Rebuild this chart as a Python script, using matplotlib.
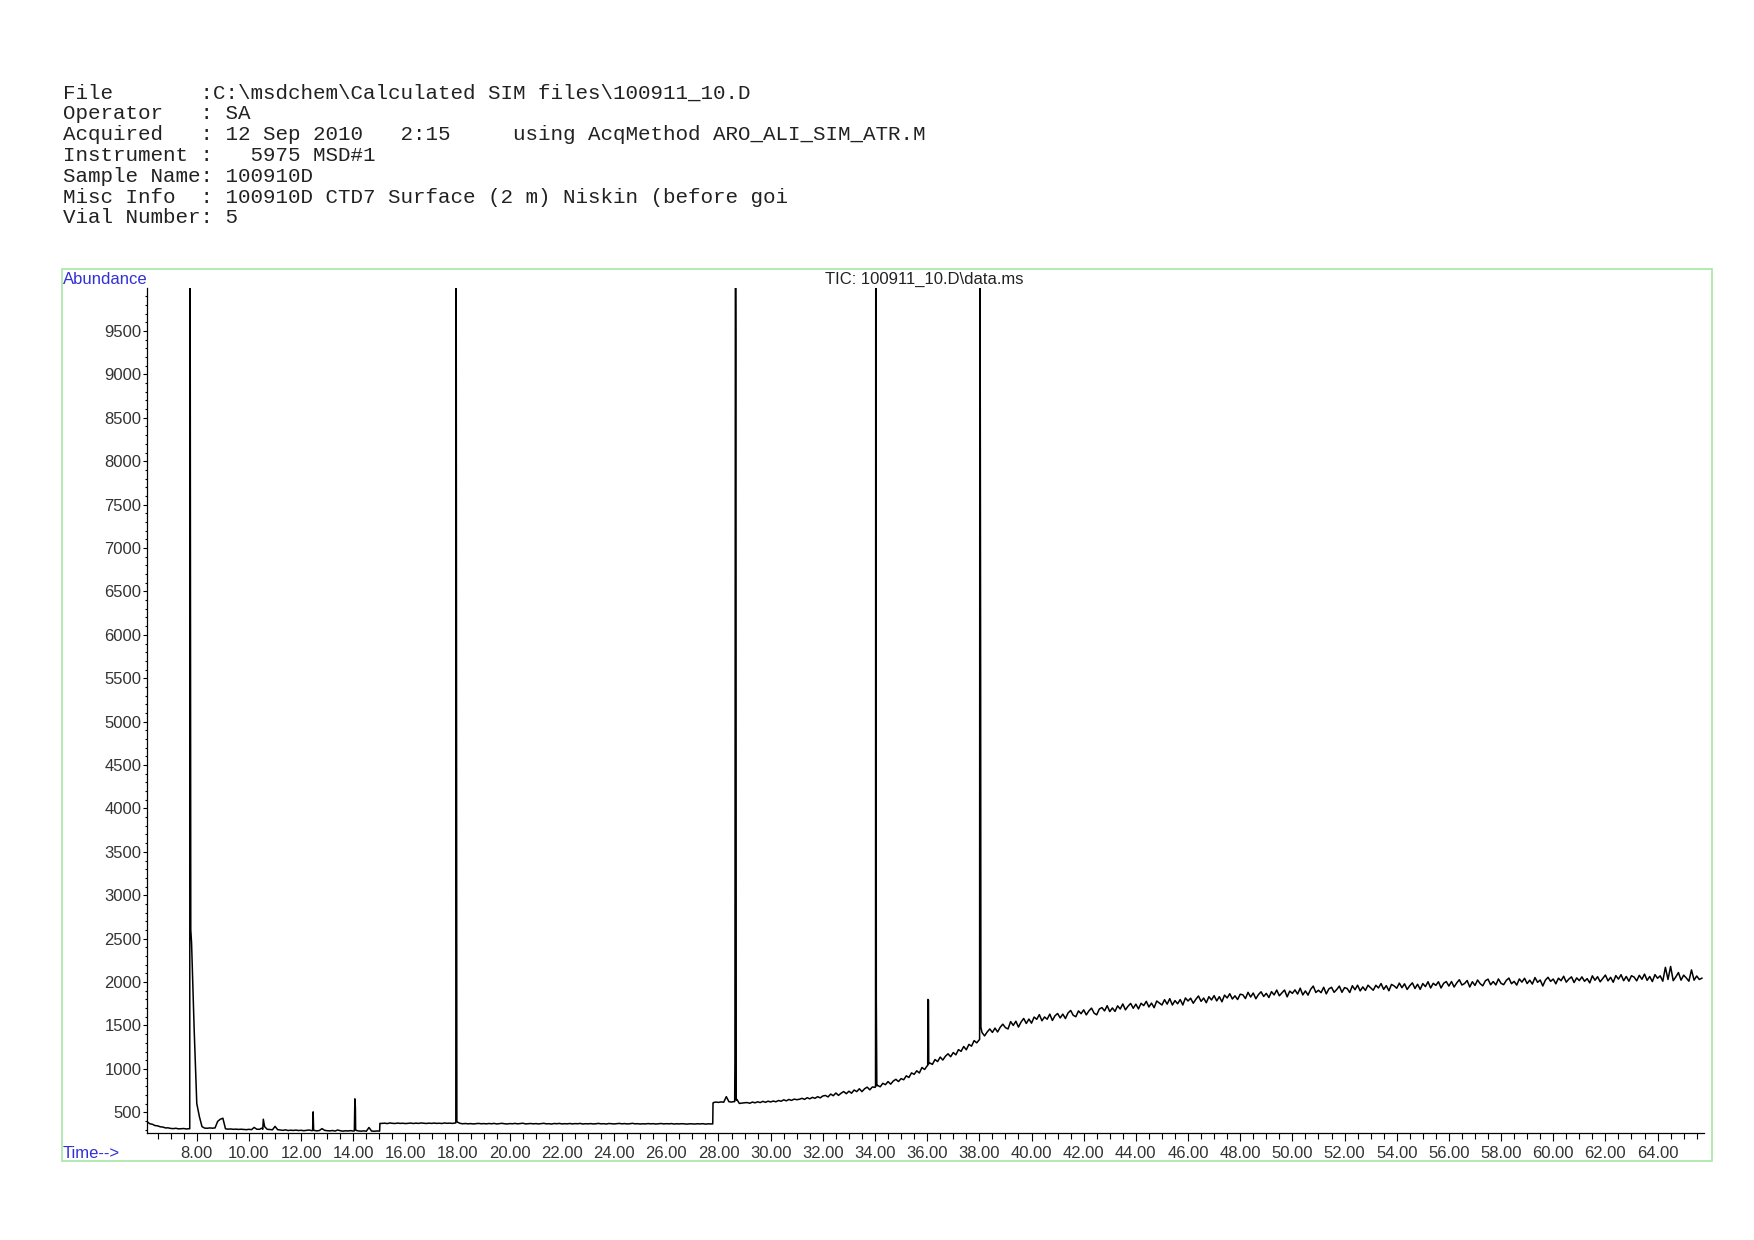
import numpy as np
import matplotlib.pyplot as plt
from matplotlib.patches import Rectangle
from matplotlib.ticker import MultipleLocator, FormatStrFormatter

# report header (ChemStation style)
header_lines = [
    r"File       :C:\msdchem\Calculated SIM files\100911_10.D",
    "Operator   : SA",
    "Acquired   : 12 Sep 2010   2:15     using AcqMethod ARO_ALI_SIM_ATR.M",
    "Instrument :   5975 MSD#1",
    "Sample Name: 100910D",
    "Misc Info  : 100910D CTD7 Surface (2 m) Niskin (before goi",
    "Vial Number: 5",
]
trace_title = r"TIC: 100911_10.D\data.ms"

# TIC baseline, one reading every 0.1 min starting at 6.1 min (one row = 1 min)
scan_start = 6.1
scan_step = 0.1
baseline_values = [
    390, 368, 362, 347, 344, 333, 330, 320, 321, 314,            # 6.1 - 7.0
    312, 316, 309, 311, 313, 308, 311, 2450, 1450, 600,          # 7.1 - 8.0
    450, 335, 318, 316, 320, 317, 320, 395, 420, 432,            # 8.1 - 9.0
    310, 306, 308, 304, 306, 303, 305, 302, 300, 304,            # 9.1 - 10.0
    300, 326, 305, 304, 318, 335, 304, 302, 298, 338,            # 10.1 - 11.0
    300, 296, 292, 298, 290, 294, 291, 295, 290, 293,            # 11.1 - 12.0
    288, 292, 296, 289, 291, 286, 290, 312, 292, 288,            # 12.1 - 13.0
    286, 290, 284, 296, 288, 283, 287, 285, 289, 284,            # 13.1 - 14.0
    292, 285, 283, 286, 282, 325, 284, 282, 285, 283,            # 14.1 - 15.0
    372, 375, 370, 377, 373, 371, 376, 372, 374, 370,            # 15.1 - 16.0
    373, 376, 371, 375, 372, 377, 374, 371, 375, 372,            # 16.1 - 17.0
    376, 372, 374, 371, 377, 373, 375, 372, 376, 385,            # 17.1 - 18.0
    372, 368, 371, 367, 370, 366, 369, 372, 368, 370,            # 18.1 - 19.0
    367, 371, 368, 372, 366, 369, 373, 368, 366, 370,            # 19.1 - 20.0
    368, 372, 367, 370, 374, 366, 369, 371, 367, 370,            # 20.1 - 21.0
    366, 370, 373, 367, 369, 365, 371, 368, 372, 366,            # 21.1 - 22.0
    369, 367, 371, 366, 370, 368, 372, 365, 369, 367,            # 22.1 - 23.0
    370, 366, 368, 372, 367, 369, 365, 371, 368, 366,            # 23.1 - 24.0
    369, 372, 367, 370, 366, 368, 373, 367, 369, 365,            # 24.1 - 25.0
    368, 366, 370, 367, 369, 365, 368, 371, 366, 369,            # 25.1 - 26.0
    367, 370, 365, 368, 366, 369, 367, 364, 368, 366,            # 26.1 - 27.0
    365, 368, 366, 369, 364, 367, 366, 612, 618, 614,            # 27.1 - 28.0
    620, 616, 680, 622, 618, 624, 650, 602, 606, 610,            # 28.1 - 29.0
    612, 604, 618, 609, 621, 612, 626, 615, 628, 619,            # 29.1 - 30.0
    630, 621, 636, 627, 644, 632, 648, 637, 652, 645,            # 30.1 - 31.0
    650, 661, 649, 668, 655, 672, 661, 680, 666, 688,            # 31.1 - 32.0
    694, 677, 710, 691, 722, 695, 720, 739, 714, 743,            # 32.1 - 33.0
    720, 757, 738, 771, 738, 771, 790, 759, 792, 787,            # 33.1 - 34.0
    810, 794, 834, 818, 854, 824, 860, 880, 854, 888,            # 34.1 - 35.0
    875, 920, 901, 954, 937, 978, 953, 1016, 993, 1035,          # 35.1 - 36.0
    1068, 1052, 1108, 1084, 1136, 1102, 1146, 1174, 1140, 1188,  # 36.1 - 37.0
    1162, 1222, 1202, 1258, 1220, 1282, 1262, 1326, 1300, 1335,  # 37.1 - 38.0
    1420, 1380, 1425, 1460, 1420, 1470, 1425, 1480, 1515, 1475,  # 38.1 - 39.0
    1460, 1545, 1501, 1549, 1482, 1540, 1581, 1523, 1574, 1527,  # 39.1 - 40.0
    1597, 1571, 1625, 1554, 1598, 1572, 1631, 1558, 1612, 1638,  # 40.1 - 41.0
    1587, 1631, 1580, 1644, 1673, 1617, 1601, 1668, 1636, 1680,  # 41.1 - 42.0
    1622, 1668, 1700, 1642, 1623, 1690, 1706, 1668, 1728, 1660,  # 42.1 - 43.0
    1702, 1662, 1726, 1690, 1748, 1680, 1722, 1754, 1698, 1746,  # 43.1 - 44.0
    1691, 1756, 1729, 1778, 1713, 1758, 1705, 1782, 1759, 1736,  # 44.1 - 45.0
    1797, 1746, 1809, 1736, 1787, 1750, 1799, 1736, 1817, 1782,  # 45.1 - 46.0
    1814, 1756, 1802, 1840, 1778, 1816, 1762, 1832, 1794, 1844,  # 46.1 - 47.0
    1783, 1832, 1773, 1850, 1817, 1866, 1805, 1842, 1799, 1860,  # 47.1 - 48.0
    1854, 1810, 1882, 1828, 1874, 1808, 1856, 1888, 1834, 1870,  # 48.1 - 49.0
    1822, 1890, 1852, 1908, 1842, 1876, 1908, 1830, 1896, 1870,  # 49.1 - 50.0
    1910, 1862, 1930, 1852, 1898, 1850, 1916, 1954, 1880, 1906,  # 50.1 - 51.0
    1878, 1940, 1864, 1922, 1940, 1882, 1914, 1954, 1882, 1936,  # 51.1 - 52.0
    1926, 1880, 1958, 1912, 1964, 1898, 1944, 1904, 1964, 1934,  # 52.1 - 53.0
    1906, 1963, 1932, 1983, 1916, 1959, 1900, 1973, 1956, 1929,  # 53.1 - 54.0
    1988, 1935, 1980, 1915, 1958, 1991, 1926, 1975, 1916, 1983,  # 54.1 - 55.0
    1948, 2004, 1932, 1986, 1962, 2004, 1932, 1986, 2006, 1954,  # 55.1 - 56.0
    2006, 1943, 1990, 2027, 1966, 1983, 2018, 1943, 2004, 1961,  # 56.1 - 57.0
    2024, 1981, 1957, 2015, 2034, 1969, 2006, 1967, 2036, 1985,  # 57.1 - 58.0
    1970, 2019, 2046, 1981, 2008, 1965, 2036, 1999, 2044, 1983,  # 58.1 - 59.0
    2022, 1977, 2052, 1997, 2024, 1955, 2022, 2055, 2008, 2035,  # 59.1 - 60.0
    1980, 2045, 2016, 2067, 1999, 2035, 2060, 1995, 2048, 2017,  # 60.1 - 61.0
    2060, 2009, 2040, 1991, 2072, 2021, 2062, 2003, 2042, 2081,  # 61.1 - 62.0
    2014, 2055, 1998, 2075, 2034, 2085, 2016, 2065, 2010, 2073,  # 62.1 - 63.0
    2058, 2014, 2078, 2032, 2092, 2020, 2064, 2006, 2086, 2044,  # 63.1 - 64.0
    2072, 2010, 2170, 2030, 2180, 2016, 2060, 2110, 2022, 2080,  # 64.1 - 65.0
    2048, 2010, 2140, 2022, 2070, 2030, 2045,                    # 65.1 - 65.7
]

# narrow peaks and steps between the baseline readings (off-scale tops at 12000)
peak_times = [
    7.73, 7.74, 7.77,
    10.53, 10.55, 10.58,
    12.44, 12.46, 12.48,
    14.04, 14.06, 14.08, 14.09,
    15.01, 15.02,
    17.93, 17.94, 17.96, 17.97,
    27.78, 27.79,
    28.62, 28.63, 28.65, 28.67, 28.68,
    34.02, 34.03, 34.05, 34.07,
    36.02, 36.03, 36.05, 36.06,
    38.01, 38.02, 38.05, 38.06,
]
peak_values = [
    310, 12000, 2600,
    305, 420, 370,
    290, 505, 292,
    286, 655, 560, 300,
    283, 372,
    378, 12000, 5000, 395,
    366, 605,
    622, 1080, 12000, 9400, 640,
    795, 12000, 1800, 805,
    1038, 1800, 1790, 1058,
    1340, 12000, 5400, 1480,
]

scan_times = scan_start + scan_step * np.arange(len(baseline_values))
times = np.concatenate([scan_times, peak_times])
abundance = np.concatenate([baseline_values, peak_values])
order = np.argsort(times, kind="stable")
times, abundance = times[order], abundance[order]

W, H = 1754, 1240
fig = plt.figure(figsize=(W / 100, H / 100), dpi=100)
plt.rcParams["font.family"] = ["Liberation Sans", "DejaVu Sans"]

# light green frame around the chromatogram
fig.add_artist(Rectangle((62 / W, 1 - 1161 / H), (1712 - 62) / W, (1161 - 269) / H,
                         transform=fig.transFigure, fill=False,
                         edgecolor="#a6e6a6", linewidth=1.2))

ax = fig.add_axes([146.7 / W, 1 - 1132.7 / H, (1704 - 146.7) / W, (1132.7 - 288) / H])
ax.plot(times, abundance, color="black", linewidth=1.1)

ax.set_xlim(6.08, 65.78)
ax.set_ylim(265, 9995)
for side in ("top", "right"):
    ax.spines[side].set_visible(False)
for side in ("left", "bottom"):
    ax.spines[side].set_linewidth(0.9)

ax.xaxis.set_major_locator(MultipleLocator(2))
ax.xaxis.set_minor_locator(MultipleLocator(0.5))
ax.xaxis.set_major_formatter(FormatStrFormatter("%.2f"))
ax.yaxis.set_major_locator(MultipleLocator(500))
ax.yaxis.set_minor_locator(MultipleLocator(100))
ax.yaxis.set_major_formatter(FormatStrFormatter("%d"))

ax.tick_params(axis="x", which="major", direction="out", length=6, width=0.8,
               pad=3.5, labelsize=12, labelcolor="#333333")
ax.tick_params(axis="x", which="minor", direction="out", length=4.5, width=0.8)
ax.tick_params(axis="y", which="major", direction="out", length=3.2, width=0.8,
               pad=0.5, labelsize=12, labelcolor="#333333")
ax.tick_params(axis="y", which="minor", direction="out", length=1.6, width=0.8)

blue = "#3030d8"
fig.text(63 / W, 1 - 279.5 / H, "Abundance", color=blue, fontsize=12, va="center")
fig.text(63 / W, 1 - 1153.5 / H, "Time-->", color=blue, fontsize=12, va="center")
fig.text(924.7 / W, 1 - 279.5 / H, trace_title, color="#222222", fontsize=12,
         ha="center", va="center")

for i, line in enumerate(header_lines):
    fig.text(62.6 / W, 1 - (92.8 + i * 20.85) / H, line, family="Liberation Mono",
             fontsize=15, color="#222222", va="center")

fig.savefig("out.png", dpi=100)
